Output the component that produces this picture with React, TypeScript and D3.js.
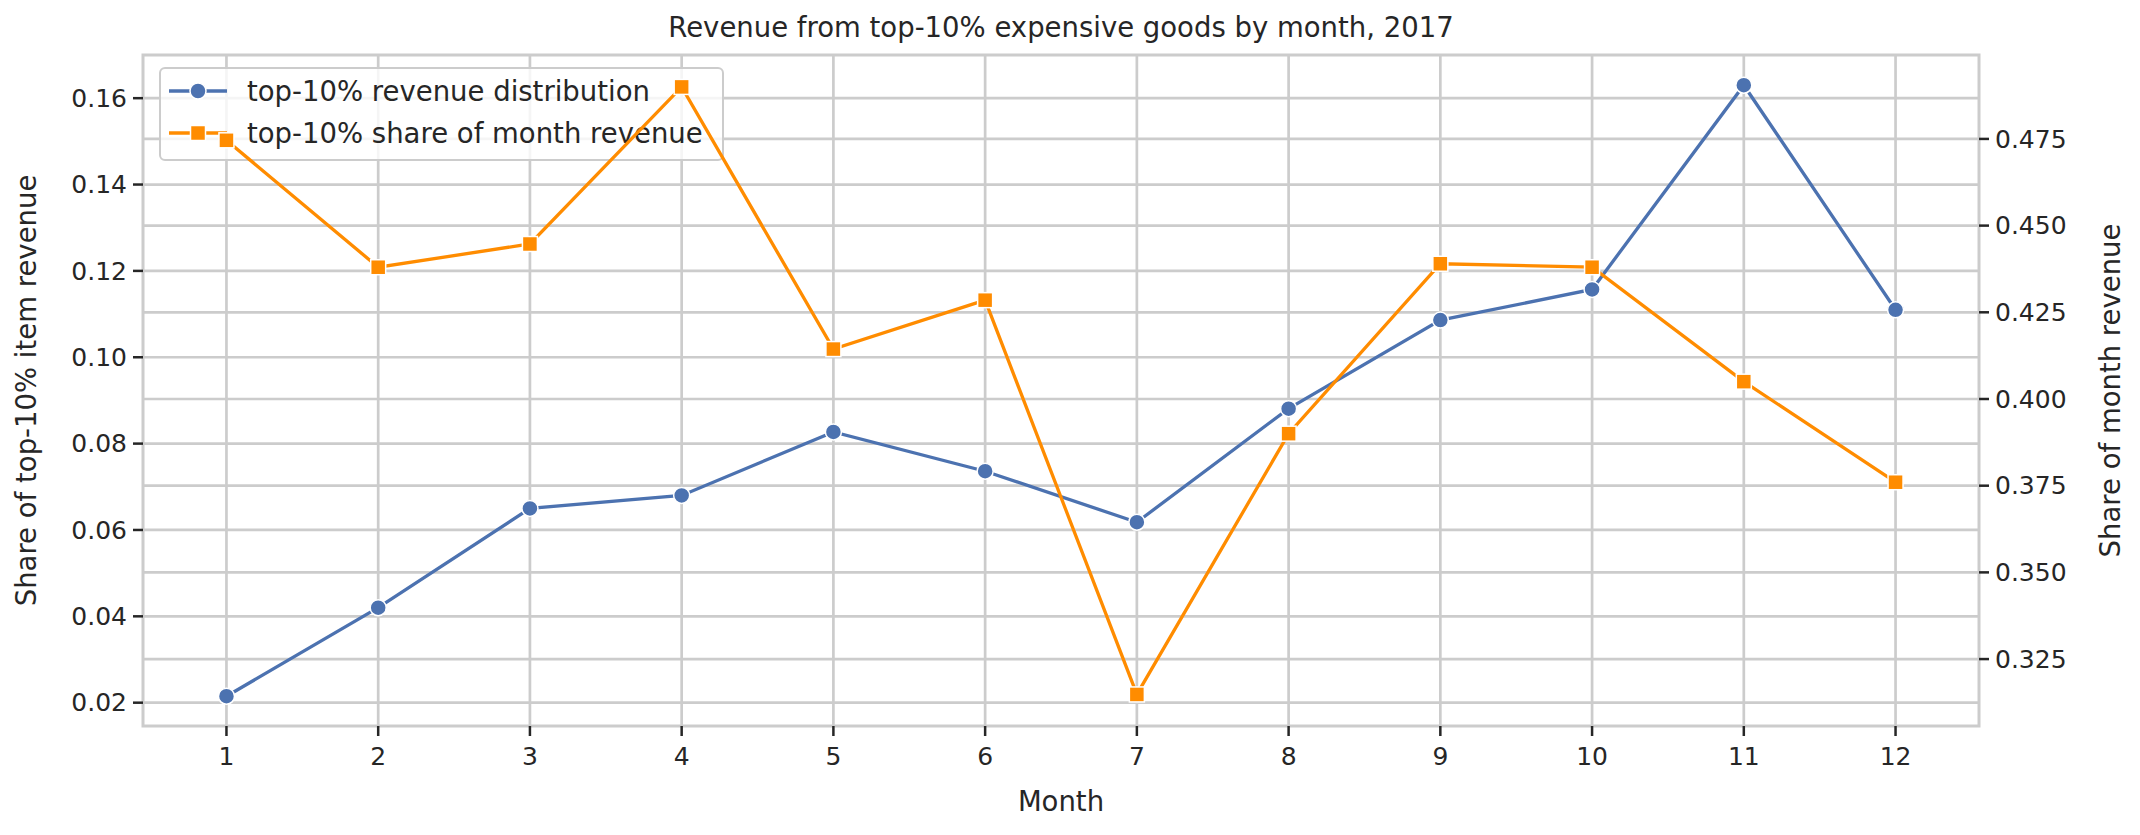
import React from "react";
import * as d3 from "d3";

const months = [1, 2, 3, 4, 5, 6, 7, 8, 9, 10, 11, 12];
const revenueDistribution = [0.0215, 0.042, 0.065, 0.068, 0.0827, 0.0736, 0.0618, 0.0881, 0.1086, 0.1157, 0.163, 0.111];
const shareOfMonth = [0.4746, 0.438, 0.4447, 0.49, 0.4144, 0.4285, 0.3148, 0.39, 0.439, 0.438, 0.405, 0.376];
const leftTicks = [0.02, 0.04, 0.06, 0.08, 0.1, 0.12, 0.14, 0.16];
const rightTicks = [0.325, 0.35, 0.375, 0.4, 0.425, 0.45, 0.475];

const W = 2140, H = 835;
const L = 143, R = 1979, T = 55, B = 726;
const BLUE = "#4c72b0", ORANGE = "#ff8c00", GRID = "#cccccc", TXT = "#262626";
const FONT = "DejaVu Sans, sans-serif";

export default function App() {
  const x = d3.scaleLinear().domain([0.45, 12.55]).range([L, R]);
  const yL = d3.scaleLinear().domain([0.0146, 0.170]).range([B, T]);
  const yR = d3.scaleLinear().domain([0.3057, 0.4992]).range([B, T]);
  const lineL = d3.line<number>().x((_, i) => x(months[i])).y((d) => yL(d));
  const lineR = d3.line<number>().x((_, i) => x(months[i])).y((d) => yR(d));
  const sq = 15;
  return (
    <svg width={W} height={H} style={{ position: "absolute", left: 0, top: 0, background: "#fff" }} fontFamily={FONT}>
      {months.map((m) => (
        <line key={"vx" + m} x1={x(m)} x2={x(m)} y1={T} y2={B} stroke={GRID} strokeWidth={2.7} />
      ))}
      {leftTicks.map((t) => (
        <line key={"gl" + t} x1={L} x2={R} y1={yL(t)} y2={yL(t)} stroke={GRID} strokeWidth={2.7} />
      ))}
      {rightTicks.map((t) => (
        <line key={"gr" + t} x1={L} x2={R} y1={yR(t)} y2={yR(t)} stroke={GRID} strokeWidth={2.7} />
      ))}
      <rect x={L} y={T} width={R - L} height={B - T} fill="none" stroke={GRID} strokeWidth={3} />
      {leftTicks.map((t) => (
        <g key={"lt" + t}>
          <line x1={L - 10} x2={L} y1={yL(t)} y2={yL(t)} stroke={TXT} strokeWidth={2.5} />
          <text x={L - 16} y={yL(t)} dy="0.35em" textAnchor="end" fontSize={25} fill={TXT}>{t.toFixed(2)}</text>
        </g>
      ))}
      {rightTicks.map((t) => (
        <g key={"rt" + t}>
          <line x1={R} x2={R + 10} y1={yR(t)} y2={yR(t)} stroke={TXT} strokeWidth={2.5} />
          <text x={R + 16} y={yR(t)} dy="0.35em" textAnchor="start" fontSize={25} fill={TXT}>{t.toFixed(3)}</text>
        </g>
      ))}
      {months.map((m) => (
        <g key={"xt" + m}>
          <line x1={x(m)} x2={x(m)} y1={B} y2={B + 10} stroke={TXT} strokeWidth={2.5} />
          <text x={x(m)} y={B + 39} textAnchor="middle" fontSize={25} fill={TXT}>{m}</text>
        </g>
      ))}
      <text x={(L + R) / 2} y={811} textAnchor="middle" fontSize={27.5} fill={TXT}>Month</text>
      <text x={(L + R) / 2} y={37} textAnchor="middle" fontSize={27.5} fill={TXT}>Revenue from top-10% expensive goods by month, 2017</text>
      <text transform={`translate(36,${(T + B) / 2}) rotate(-90)`} textAnchor="middle" fontSize={27.5} fill={TXT}>Share of top-10% item revenue</text>
      <text transform={`translate(2120,${(T + B) / 2}) rotate(-90)`} textAnchor="middle" fontSize={27.5} fill={TXT}>Share of month revenue</text>

      <path d={lineL(revenueDistribution) || ""} fill="none" stroke={BLUE} strokeWidth={3.3} />
      {revenueDistribution.map((v, i) => (
        <circle key={"b" + i} cx={x(months[i])} cy={yL(v)} r={8} fill={BLUE} stroke="#fff" strokeWidth={1.5} />
      ))}

      <rect x={160} y={68} width={563} height={92} rx={5} fill="#fff" fillOpacity={0.8} stroke={GRID} strokeWidth={2} />
      <line x1={169} x2={227} y1={91} y2={91} stroke={BLUE} strokeWidth={3.3} />
      <circle cx={198} cy={91} r={8} fill={BLUE} stroke="#fff" strokeWidth={1.5} />
      <text x={247} y={91} dy="0.35em" fontSize={27.5} fill={TXT}>top-10% revenue distribution</text>
      <line x1={169} x2={227} y1={133} y2={133} stroke={ORANGE} strokeWidth={3.3} />
      <rect x={198 - sq / 2} y={133 - sq / 2} width={sq} height={sq} fill={ORANGE} stroke="#fff" strokeWidth={1.5} />
      <text x={247} y={133} dy="0.35em" fontSize={27.5} fill={TXT}>top-10% share of month revenue</text>

      <path d={lineR(shareOfMonth) || ""} fill="none" stroke={ORANGE} strokeWidth={3.3} />
      {shareOfMonth.map((v, i) => (
        <rect key={"o" + i} x={x(months[i]) - sq / 2} y={yR(v) - sq / 2} width={sq} height={sq} fill={ORANGE} stroke="#fff" strokeWidth={1.5} />
      ))}
    </svg>
  );
}
